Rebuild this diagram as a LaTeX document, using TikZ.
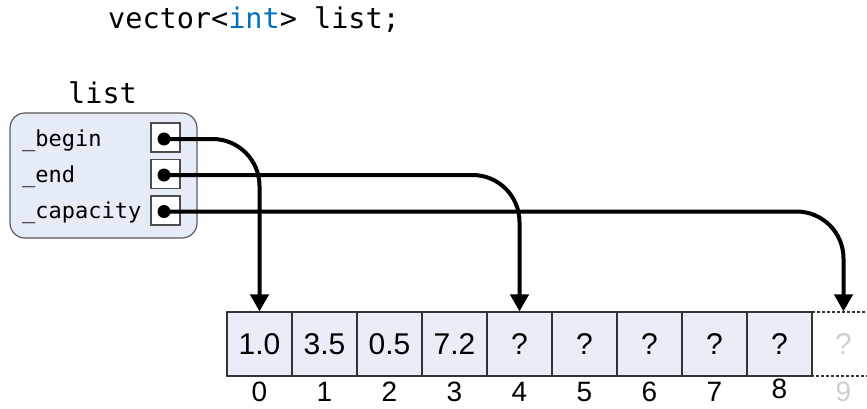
\documentclass[tikz,border=0pt]{standalone}
\usepackage{fontspec}
\setmainfont{Liberation Sans}
\setmonofont{DejaVu Sans Mono}
\usetikzlibrary{arrows.meta}
\definecolor{cellfill}{HTML}{E8EDF7}
\definecolor{boxfill}{HTML}{E6ECF7}
\definecolor{kwblue}{HTML}{0070C1}
\definecolor{ghost}{HTML}{CFCFCF}
\tikzset{
  code/.style={inner sep=0pt, anchor=base west, font=\ttfamily\fontsize{28.5}{30}\selectfont},
  field/.style={inner sep=0pt, anchor=base west, font=\ttfamily\fontsize{22}{24}\selectfont},
  outer/.style={draw=black!65, fill=boxfill, line width=1.2pt, rounded corners=15pt,
    minimum width=187pt, minimum height=125pt, inner sep=0pt},
  slot/.style={draw=black!70, fill=white, line width=1.1pt, minimum size=29pt, inner sep=0pt},
  dot/.style={circle, fill=black, minimum size=13pt, inner sep=0pt},
  cell/.style={draw=black!80, fill=cellfill, line width=1.1pt, minimum width=65pt,
    minimum height=64pt, inner sep=0pt, font=\fontsize{30}{32}\selectfont},
  ghostcell/.style={draw=black!80, dashed, dash pattern=on 3pt off 2pt, fill=white, line width=1.1pt,
    minimum width=65pt, minimum height=64pt, inner sep=0pt, text=ghost, font=\fontsize{30}{32}\selectfont},
  idx/.style={inner sep=0pt, anchor=base, font=\fontsize{28}{30}\selectfont},
  ptr/.style={line width=4pt, rounded corners=47pt, -{Triangle[width=18pt,length=17pt]}},
}
\begin{document}
\begin{tikzpicture}[x=1pt,y=-1pt]
\useasboundingbox (0,0) rectangle (867,408);
\node[code] (decl) at (108,28) {vector<\textcolor{kwblue}{int}> list;};
\node[code] (name) at (68,103) {list};
\node[outer] (lst) at (103.5,175.5) {};
\node[field] (fb) at (22,146) {\_begin};
\node[field] (fe) at (22,182) {\_end};
\node[field] (fc) at (22,218) {\_capacity};
\node[slot] (sb) at (165.5,137.5) {};
\node[slot] (se) at (165.5,174) {};
\node[slot] (sc) at (165.5,210.5) {};
\node[dot] (db) at (164,139) {};
\node[dot] (de) at (164,175) {};
\node[dot] (dc) at (164,211.5) {};
% cells
\node[ghostcell] (c9) at (843.5,344) {?};
\node[cell] (c0) at (259.5,344) {1.0};
\node[cell] (c1) at (324.5,344) {3.5};
\node[cell] (c2) at (389.5,344) {0.5};
\node[cell] (c3) at (454.5,344) {7.2};
\node[cell] (c4) at (519.5,344) {?};
\node[cell] (c5) at (584.5,344) {?};
\node[cell] (c6) at (649.5,344) {?};
\node[cell] (c7) at (714.5,344) {?};
\node[cell] (c8) at (779.5,344) {?};
% indices
\node[idx] (i0) at (259.5,401.5) {0};
\node[idx] (i1) at (324.5,401.5) {1};
\node[idx] (i2) at (389.5,401.5) {2};
\node[idx] (i3) at (454.5,401.5) {3};
\node[idx] (i4) at (519.5,401.5) {4};
\node[idx] (i5) at (584.5,401.5) {5};
\node[idx] (i6) at (649.5,401.5) {6};
\node[idx] (i7) at (714.5,401.5) {7};
\node[idx] (i8) at (779.5,398.5) {8};
\node[idx, text=ghost] (i9) at (843.5,401.5) {9};
% pointers
\draw[ptr] (db.center) -- (db.center -| c0.north) -- (c0.north);
\draw[ptr] (de.center) -- (de.center -| c4.north) -- (c4.north);
\draw[ptr] (dc.center) -- (dc.center -| c9.north) -- (c9.north);
\end{tikzpicture}
\end{document}
